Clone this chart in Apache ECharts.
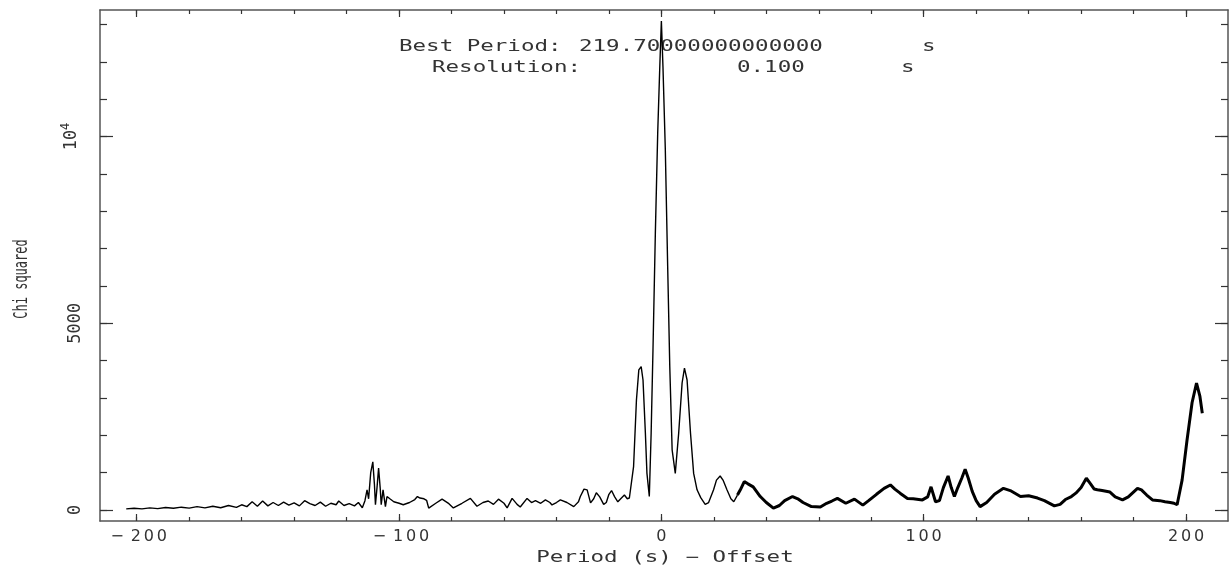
<!DOCTYPE html>
<html>
<head>
<meta charset="utf-8">
<script src="https://cdn.jsdelivr.net/npm/echarts@6/dist/echarts.min.js"></script>
<style>
html, body { margin: 0; padding: 0; background: #fff; }
#main { width: 1229px; height: 574px; }
</style>
</head>
<body>
<div id="main"></div>
<script>
// period offset (s) and chi squared
const periodsThin = [
  -204, -201, -198, -195, -192, -189, -186, -183, -180, -177,
  -174, -171, -168, -165, -162, -160, -158, -156, -154, -152,
  -150, -148, -146, -144, -142, -140, -138, -136, -134, -132,
  -130, -128, -126, -124, -123, -121, -119, -117, -115.5, -114,
  -113, -112.2, -111.6, -110.8, -110, -109.4, -109, -108.4, -107.8, -107.2,
  -106.8, -106.1, -105.2, -104.6, -103.5, -102, -100, -98.4, -96, -94,
  -93, -92, -90.5, -89.5, -88.7, -86, -83.6, -81, -79.3, -76,
  -72.8, -70.3, -68, -66, -64, -62.1, -60, -58.8, -56.9, -55,
  -53.8, -51.2, -49.5, -48, -46, -44.2, -42.5, -41.7, -40, -38.5,
  -36, -33.4, -31.6, -30.9, -29.5, -28.3, -27, -25.8, -24.8, -23.5,
  -22, -21, -20, -19, -17.8, -16.6, -15.5, -14.1, -13, -12.2,
  -11.5, -10.6, -9.5, -8.6, -7.7, -7.0, -6.1, -5.5, -4.6, -3.9,
  -3.2, -2.3, -1.4, -0.6, 0, 0.6, 1.5, 2.4, 3.2, 4.1,
  5.3, 6.6, 7.9, 8.8, 9.8, 11.1, 12.3, 13.6, 15, 16.7,
  18, 19.9, 21, 22.4, 23.5, 25, 26.5, 27.6, 29
]
const chiThin = [
  30, 45, 30, 55, 35, 65, 45, 75, 50, 90,
  55, 100, 60, 120, 70, 140, 90, 220, 100, 240,
  110, 200, 120, 210, 130, 190, 110, 250, 170, 120,
  210, 100, 180, 140, 240, 120, 170, 110, 200, 60,
  250, 540, 300, 1000, 1290, 700, 140, 600, 1120, 600,
  140, 540, 90, 360, 300, 220, 180, 140, 200, 280,
  360, 320, 300, 260, 50, 180, 290, 170, 55, 180,
  310, 100, 200, 240, 150, 290, 180, 55, 310, 150,
  80, 310, 200, 250, 180, 270, 200, 135, 200, 270,
  200, 90, 220, 360, 560, 540, 190, 300, 460, 350,
  150, 200, 420, 520, 350, 220, 300, 400, 300, 320,
  300, 1160, 2950, 3750, 3840, 3480, 2060, 980, 360, 2060,
  4290, 7410, 10090, 11880, 13090, 11880, 9650, 6520, 3840, 1610,
  980, 2060, 3400, 3800, 3480, 2060, 980, 540, 330, 150,
  200, 540, 800, 910, 800, 540, 300, 220, 400
]
const periodsThick = [
  29, 30.1, 31.6, 33, 35, 37.7, 40, 42.7, 45, 47,
  50, 52, 54, 57.2, 60.6, 63, 65, 67.1, 70.3, 73.6,
  76.8, 79, 82, 84.9, 87.3, 89, 91, 93.8, 96, 99.5,
  101.5, 102.8, 104.5, 106, 107.5, 109.3, 110.5, 111.7, 113, 114.5,
  115.8, 117, 118.5, 120, 121.5, 124, 127, 130.4, 133, 136.9,
  140, 143.4, 146, 149.8, 152, 154, 156.3, 158, 160, 162,
  163.6, 165, 166.2, 168, 171, 173, 175.8, 178, 181.5, 183,
  185, 187.2, 190, 192, 194, 195.4, 196.6, 198.5, 200.4, 202.3,
  204, 205.3, 206.2
]
const chiThick = [
  400, 540, 760, 700, 620, 360, 200, 50, 120, 250,
  360, 300, 200, 90, 80, 180, 240, 310, 180, 290,
  130, 250, 420, 580, 670, 560, 450, 310, 300, 270,
  350, 620, 220, 250, 600, 910, 600, 360, 600, 850,
  1090, 850, 500, 250, 90, 200, 420, 580, 520, 360,
  380, 320, 250, 110, 150, 280, 360, 450, 600, 850,
  700, 560, 540, 520, 480, 350, 270, 350, 580, 540,
  400, 270, 250, 220, 200, 180, 140, 800, 1880, 2870,
  3400, 3040, 2590
]

const xMajorTicks = [-200, -100, 0, 100, 200]
const xMinorTicks = [-200, -180, -160, -140, -120, -100, -80, -60, -40, -20, 0,
  20, 40, 60, 80, 100, 120, 140, 160, 180, 200]
const yMajorTicks = [0, 5000, 10000]
const yMinorTicks = [0, 1000, 2000, 3000, 4000, 5000, 6000, 7000, 8000, 9000,
  10000, 11000, 12000, 13000]

const X_MIN = -214
const X_MAX = 216
const Y_MIN = -295
const Y_MAX = 13387

const MONO = '"DejaVu Sans Mono", "Liberation Mono", monospace'
const SANS = '"DejaVu Sans", "Liberation Sans", sans-serif'
const TEXT_COLOR = '#333'
const FRAME = '#555'

function xAxisDef (position, ticks, len, withLine, withLabel) {
  return {
    type: 'value',
    position: position,
    min: X_MIN,
    max: X_MAX,
    axisLine: { show: withLine, onZero: false, lineStyle: { color: FRAME, width: 1.5 } },
    axisTick: { show: true, inside: true, length: len, customValues: ticks, lineStyle: { color: '#333', width: 1.2 } },
    axisLabel: {
      show: withLabel,
      customValues: ticks,
      margin: 8,
      formatter: function (v) {
        const s = v < 0 ? '\u2212' + Math.abs(v) : String(v)
        return s.split('').map(function (c) {
          return c === '\u2212' ? '{m|\u2212}' : '{d|' + c + '}'
        }).join('')
      },
      rich: {
        d: { width: 13, align: 'center', fontSize: 16, fontFamily: SANS, color: TEXT_COLOR },
        m: { width: 24, align: 'center', fontSize: 16, fontFamily: SANS, color: TEXT_COLOR }
      }
    },
    splitLine: { show: false }
  }
}

function yAxisDef (position, ticks, len, withLine, withLabel) {
  return {
    type: 'value',
    position: position,
    min: Y_MIN,
    max: Y_MAX,
    axisLine: { show: withLine, onZero: false, lineStyle: { color: FRAME, width: 1.5 } },
    axisTick: { show: true, inside: true, length: len, customValues: ticks, lineStyle: { color: '#333', width: 1.2 } },
    axisLabel: {
      show: withLabel,
      customValues: ticks,
      rotate: 90,
      margin: 16,
      formatter: function (v) {
        return v === 10000 ? '{a|10}{s|4}' : '{a|' + v + '}'
      },
      rich: {
        a: { fontSize: 17, fontFamily: MONO, color: TEXT_COLOR },
        s: { fontSize: 12, fontFamily: MONO, color: TEXT_COLOR, padding: [0, 0, 12, 0] }
      }
    },
    splitLine: { show: false }
  }
}

const chartDom = document.getElementById('main')
const myChart = echarts.init(chartDom, null, { renderer: 'canvas' })

const thinData = periodsThin.map((p, i) => [p, chiThin[i]])
const thickData = periodsThick.map((p, i) => [p, chiThick[i]])

const annot = (text, x, y) => ({
  type: 'text',
  x: x,
  y: y,
  scaleX: 1.5,
  style: {
    text: text,
    font: '15px ' + MONO,
    fill: TEXT_COLOR,
    textAlign: 'left',
    align: 'left',
    textVerticalAlign: 'middle',
    verticalAlign: 'middle'
  }
})

const option = {
  backgroundColor: '#fff',
  animation: false,
  grid: { left: 100, right: 1, top: 10, bottom: 53, containLabel: false },
  xAxis: [
    xAxisDef('bottom', xMajorTicks, 7, true, true),
    xAxisDef('bottom', xMinorTicks, 4, false, false),
    xAxisDef('top', xMajorTicks, 7, true, false),
    xAxisDef('top', xMinorTicks, 4, false, false)
  ],
  yAxis: [
    yAxisDef('left', yMajorTicks, 13, true, true),
    yAxisDef('left', yMinorTicks, 7, false, false),
    yAxisDef('right', yMajorTicks, 13, true, false),
    yAxisDef('right', yMinorTicks, 7, false, false)
  ],
  series: [
    {
      type: 'line',
      data: thinData,
      showSymbol: false,
      lineStyle: { color: '#000', width: 1.4 }
    },
    {
      type: 'line',
      data: thickData,
      showSymbol: false,
      lineStyle: { color: '#000', width: 3 }
    }
  ],
  graphic: [
    annot('Best Period:', 399, 47),
    annot('219.70000000000000', 579, 47),
    annot('s', 922, 47),
    annot('Resolution:', 432, 68),
    annot('0.100', 737, 68),
    annot('s', 901, 68),
    {
      type: 'text',
      x: 665,
      y: 558,
      scaleX: 1.5,
      style: {
        text: 'Period (s) \u2212 Offset',
        font: '15px ' + MONO,
        fill: TEXT_COLOR,
        textAlign: 'center',
        align: 'center',
        textVerticalAlign: 'middle',
        verticalAlign: 'middle'
      }
    },
    {
      type: 'text',
      x: 22,
      y: 279,
      rotation: Math.PI / 2,
      scaleY: 1.6,
      style: {
        text: 'Chi squared',
        font: '12px ' + MONO,
        fill: TEXT_COLOR,
        textAlign: 'center',
        align: 'center',
        textVerticalAlign: 'middle',
        verticalAlign: 'middle'
      }
    }
  ]
}

myChart.setOption(option)
window.addEventListener('resize', () => {
  myChart.resize()
})
</script>
</body>
</html>
